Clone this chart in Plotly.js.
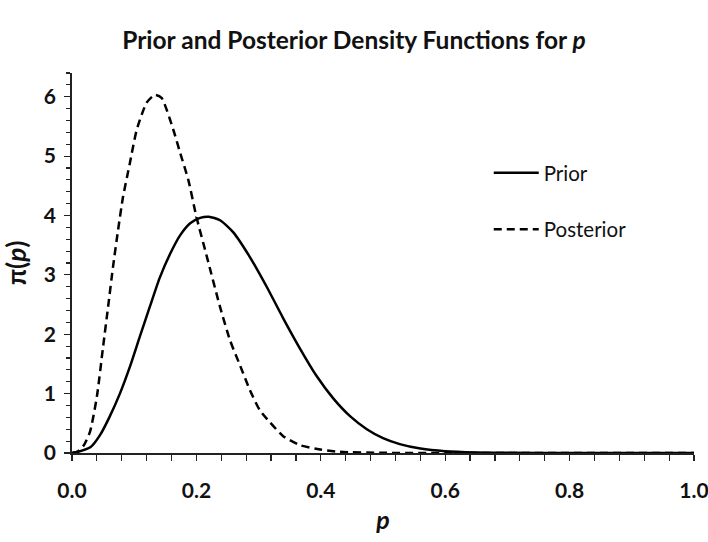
<!DOCTYPE html>
<html>
<head>
<meta charset="utf-8">
<script src="https://cdn.plot.ly/plotly-3.0.1.min.js"></script>
<style>html,body{margin:0;padding:0;background:#fff;}#chart{width:708px;height:542px;}</style>
</head>
<body>
<div id="chart"></div>
<script>
// Values
const priorP = [0, 0.01, 0.03, 0.045, 0.06, 0.077, 0.093, 0.109, 0.125, 0.141, 0.158, 0.174, 0.19, 0.206, 0.22, 0.238, 0.259, 0.286, 0.313, 0.34, 0.367, 0.393, 0.42, 0.447, 0.474, 0.5, 0.527, 0.56, 0.6, 0.65, 0.7, 0.8, 1.0];
const priorDensity = [0, 0.02, 0.1, 0.3, 0.6, 1.0, 1.45, 1.96, 2.46, 2.95, 3.36, 3.67, 3.87, 3.96, 3.98, 3.92, 3.72, 3.3, 2.8, 2.26, 1.75, 1.3, 0.92, 0.62, 0.4, 0.25, 0.15, 0.075, 0.03, 0.01, 0.003, 0, 0];

const postP = [0, 0.01, 0.019, 0.029, 0.04, 0.05, 0.058, 0.066, 0.074, 0.082, 0.093, 0.104, 0.12, 0.133, 0.144, 0.163, 0.174, 0.187, 0.2, 0.217, 0.238, 0.254, 0.27, 0.286, 0.302, 0.318, 0.34, 0.367, 0.399, 0.43, 0.5, 0.6, 1.0];
const postDensity = [0, 0.03, 0.13, 0.36, 0.95, 1.79, 2.46, 3.14, 3.75, 4.31, 4.88, 5.44, 5.9, 6.03, 5.98, 5.44, 5.05, 4.6, 3.98, 3.3, 2.46, 1.9, 1.48, 1.06, 0.72, 0.52, 0.28, 0.13, 0.06, 0.02, 0.003, 0, 0];

const seriesNames = ["Prior", "Posterior"];
const xTickVals = [0, 0.2, 0.4, 0.6, 0.8, 1.0];
const xTickText = ["0.0", "0.2", "0.4", "0.6", "0.8", "1.0"];
const yTickVals = [0, 1, 2, 3, 4, 5, 6];

const FONT = "Lato, 'Open Sans', sans-serif";

const traces = [
  {x: priorP, y: priorDensity, name: seriesNames[0], type: "scatter", mode: "lines",
   legendgroup: "a", line: {color: "#000", width: 2.5, shape: "spline", smoothing: 0.6}},
  {x: postP, y: postDensity, name: seriesNames[1], type: "scatter", mode: "lines",
   legendgroup: "b", line: {color: "#000", width: 2.5, dash: "8px,5px", shape: "spline", smoothing: 0.6}}
];

const layout = {
  width: 708, height: 542,
  margin: {l: 72, r: 14, t: 73, b: 89},
  paper_bgcolor: "#fff", plot_bgcolor: "#fff",
  font: {family: FONT, color: "#111"},
  title: {text: "<b>Prior and Posterior Density Functions for <i>p</i></b>",
          font: {family: FONT, size: 24.5, color: "#111"},
          x: 0.5, xanchor: "center", xref: "container", y: 1 - 40/542, yanchor: "middle", yref: "container"},
  xaxis: {range: [0, 1], tickvals: xTickVals, ticktext: xTickText,
          showgrid: false, zeroline: false, showline: true, linecolor: "#222", linewidth: 1.8,
          ticks: "outside", ticklen: 6, tickwidth: 1.2, tickcolor: "#222",
          minor: {dtick: 0.04, ticks: "outside", ticklen: 6, tickwidth: 1.2, tickcolor: "#222", showgrid: false},
          tickfont: {family: FONT, size: 21, color: "#111", weight: "bold"}, ticklabelstandoff: 12,
          ticklabeloverflow: "allow",
          title: {text: "<b><i>p</i></b>", font: {family: FONT, size: 25, color: "#111"}, standoff: 10}},
  yaxis: {range: [0, 6.4], tickvals: yTickVals,
          showgrid: false, zeroline: false, showline: true, linecolor: "#222", linewidth: 1.8,
          ticks: "outside", ticklen: 6, tickwidth: 1.2, tickcolor: "#222",
          minor: {dtick: 0.2, ticks: "outside", ticklen: 4, tickwidth: 1.2, tickcolor: "#222", showgrid: false},
          tickfont: {family: FONT, size: 21, color: "#111", weight: "bold"}, ticklabelstandoff: 4,
          title: {text: "<b>π(<i>p</i>)</b>", font: {family: FONT, size: 26, color: "#111"}, standoff: 12}},
  showlegend: true,
  legend: {x: 0.67, y: 0.79, xanchor: "left", yanchor: "top", bgcolor: "rgba(0,0,0,0)",
           font: {family: FONT, size: 20.5, color: "#111"}, tracegroupgap: 27, itemwidth: 45}
};

Plotly.newPlot("chart", traces, layout, {displayModeBar: false, staticPlot: true});
</script>
</body>
</html>
